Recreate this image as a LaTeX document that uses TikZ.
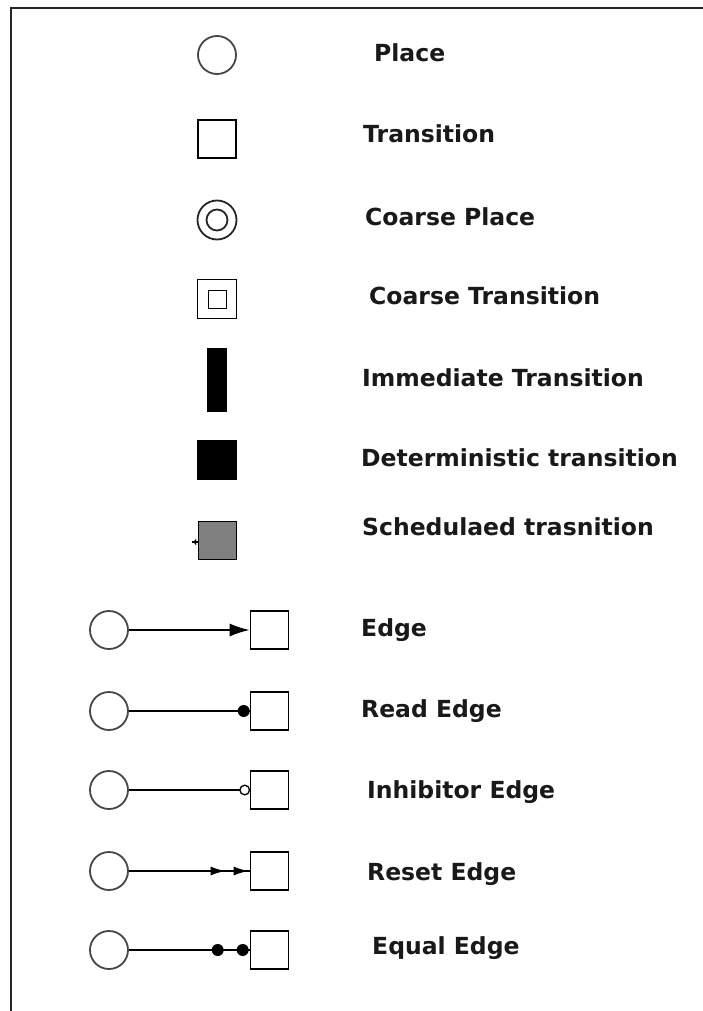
\documentclass[tikz,border=0pt]{standalone}
\usepackage{fontspec}
\setmainfont{DejaVu Sans}
\usetikzlibrary{arrows.meta,decorations.markings}

\tikzset{
  place/.style={circle,draw=black!72,line width=1.8pt,fill=white,minimum size=38pt,inner sep=0pt},
  trans/.style={rectangle,draw=black,line width=1.6pt,fill=white,minimum size=38pt,inner sep=0pt},
  label/.style={anchor=base west,inner sep=0pt,text=black!90,font=\fontsize{23.5}{28}\selectfont\bfseries},
  edgeline/.style={line width=1.9pt,draw=black},
  tipmark/.style={postaction={decorate},decoration={markings,#1}}
}

\begin{document}
\begin{tikzpicture}[x=1pt,y=-1pt]
\useasboundingbox (0,0) rectangle (703,1011);
\fill[white] (0,0) rectangle (703,1011);

% frame
\coordinate (fl) at (11,1011);
\coordinate (fc) at (11,8);
\coordinate (fr) at (703,8);
\draw[line width=1.6pt,black!85] (fl) -- (fc) -- (fr);

% legend symbols
\node[place] (place) at (217,55) {};
\node[trans] (transition) at (217,139) {};
\node[place,draw=black!85,minimum size=39pt] (coarseplace) at (217,220) {};
\node[place,draw=black!85,minimum size=21pt] (coarseplacein) at (217,220) {};
\node[trans,minimum size=39pt] (coarsetrans) at (217,299) {};
\node[trans,minimum size=18pt,line width=1.5pt] (coarsetransin) at (217.5,299.5) {};
\node[rectangle,fill=black,draw=black,minimum width=19pt,minimum height=63pt,inner sep=0pt] (immediate) at (217,380) {};
\node[rectangle,fill=black,draw=black,minimum size=39pt,inner sep=0pt] (determ) at (217,460) {};
\node[rectangle,fill=black!50,draw=black,line width=1.7pt,minimum size=38pt,inner sep=0pt] (sched) at (217.5,540.5) {};
\coordinate (tickend) at (192,542);
\draw[line width=1.5pt] (tickend) -- (sched.west |- tickend);
\draw[line width=1.1pt] ([xshift=-1.5pt,yshift=-2.5pt]sched.west |- tickend) -- ([xshift=-3.5pt]sched.west |- tickend) -- ([xshift=-1.5pt,yshift=2.5pt]sched.west |- tickend);

% labels of the symbols
\node[label] (lplace) at (374,62) {Place};
\node[label] (ltrans) at (363,143) {Transition};
\node[label] (lcplace) at (365,225) {Coarse Place};
\node[label] (lctrans) at (369,304) {Coarse Transition};
\node[label] (limm) at (362,386) {Immediate Transition};
\node[label] (ldet) at (361,466) {Deterministic transition};
\node[label] (lsched) at (362,535) {Schedulaed trasnition};

% edge kinds
\foreach \n/\y in {1/630,2/711,3/790,4/871,5/950}{
  \node[place] (p\n) at (109,\y) {};
  \node[trans] (t\n) at (269.5,\y) {};
}

% plain edge
\draw[edgeline,-{Latex[length=20pt,width=13pt]}] (p1) -- (t1);
% read edge
\draw[edgeline,tipmark={mark=at position -6pt with {\fill[black] (0,0) circle (6pt);}}] (p2) -- (t2);
% inhibitor edge
\draw[edgeline,shorten >=10pt] (p3) -- (t3);
\path[tipmark={mark=at position -5pt with {\draw[line width=1.3pt,fill=white] (0,0) circle (4.8pt);}}] (p3.east) -- (t3.west);
% reset edge
\draw[edgeline,tipmark={mark=at position -1pt with {\arrow{Latex[length=15pt,width=9pt]}},mark=at position -24pt with {\arrow{Latex[length=15pt,width=9pt]}}}] (p4) -- (t4);
% equal edge
\draw[edgeline,tipmark={mark=at position -7pt with {\fill[black] (0,0) circle (6pt);},mark=at position -32pt with {\fill[black] (0,0) circle (6pt);}}] (p5) -- (t5);

% labels of the edges
\node[label] (ledge) at (361,636) {Edge};
\node[label] (lread) at (361,717) {Read Edge};
\node[label] (linh) at (367,798) {Inhibitor Edge};
\node[label] (lreset) at (367,880) {Reset Edge};
\node[label] (lequal) at (372,954) {Equal Edge};
\end{tikzpicture}
\end{document}
